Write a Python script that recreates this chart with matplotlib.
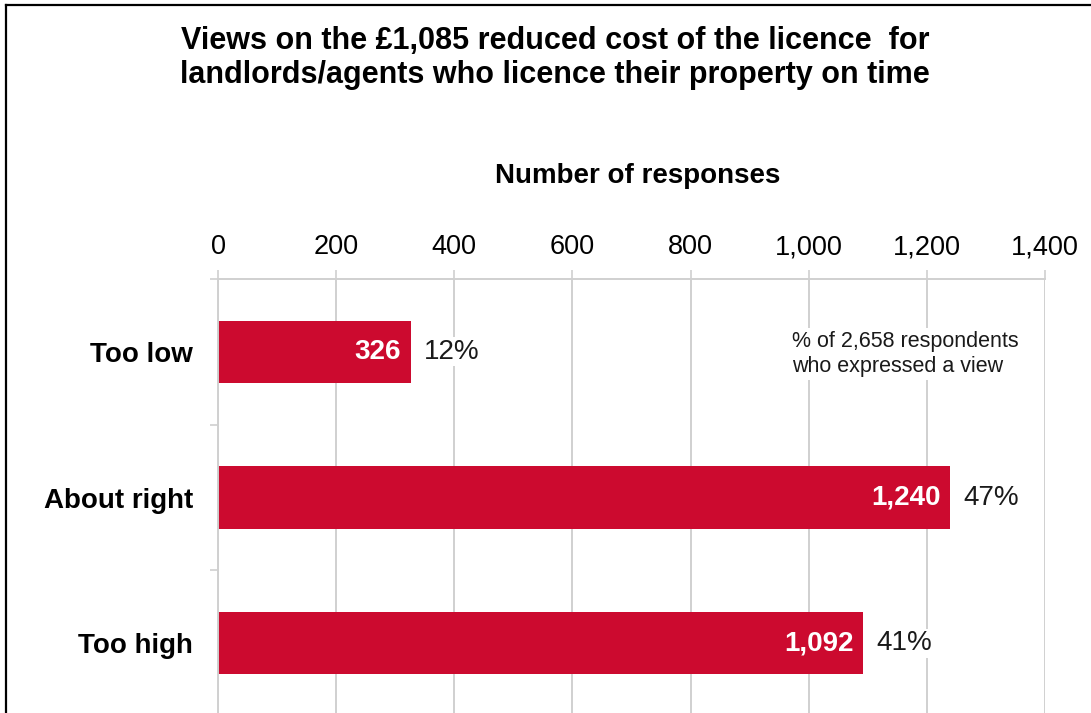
"""views on the reduced licence cost - horizontal bar chart"""
import matplotlib
matplotlib.use("Agg")
import matplotlib.pyplot as plt
from matplotlib.lines import Line2D

plt.rcParams['font.family'] = ['Liberation Sans', 'DejaVu Sans']

# data
categories = ['Too low', 'About right', 'Too high']
responses = [326, 1240, 1092]
percents = ['12%', '47%', '41%']
x_ticks = [0, 200, 400, 600, 800, 1000, 1200, 1400]
title = 'Views on the £1,085 reduced cost of the licence  for\nlandlords/agents who licence their property on time'
note = '% of 2,658 respondents\nwho expressed a view'

bar_color = '#CC0A2F'
grid_color = '#D0D0D0'

fig = plt.figure(figsize=(10.91, 7.13), dpi=100)
W, H = 1091, 713
ax = fig.add_axes([218 / W, 1 - 716 / H, (1045 - 218) / W, (716 - 279) / H])

ypos = list(range(len(categories)))
ax.barh(ypos, responses, height=0.43, color=bar_color, zorder=2)

ax.set_xlim(0, 1400)
ax.set_ylim(2.5, -0.5)

# x axis on top
ax.xaxis.tick_top()
ax.set_xticks(x_ticks)
ax.set_xticklabels(['{:,}'.format(t) for t in x_ticks], fontsize=19.5)
ax.tick_params(axis='x', direction='out', length=6.5, width=1.2, color=grid_color, pad=7)
ax.xaxis.set_label_position('top')
ax.set_xlabel('Number of responses', fontsize=20, fontweight='bold', labelpad=37)
ax.xaxis.label.set_x(0.507)
ax.xaxis.grid(True, color=grid_color, linewidth=1.4, zorder=0)

# categories with ticks at the boundaries
ax.set_yticks(ypos)
ax.set_yticklabels(categories, fontsize=20, fontweight='bold')
ax.set_yticks([-0.5, 0.5, 1.5, 2.5], minor=True)
ax.tick_params(axis='y', which='major', length=0, pad=18)
ax.tick_params(axis='y', which='minor', length=6, width=1.2, color=grid_color)

for s in ['right', 'bottom']:
    ax.spines[s].set_visible(False)
for s in ['top', 'left']:
    ax.spines[s].set_color(grid_color)
    ax.spines[s].set_linewidth(1.4)
ax.set_axisbelow(True)

# value labels in the bars and percentages after them
for y, v, p in zip(ypos, responses, percents):
    ax.annotate('{:,}'.format(v), xy=(v, y), xytext=(-7, 0), textcoords='offset points',
                ha='right', va='center', color='white', fontsize=20, fontweight='bold')
    ax.annotate(p, xy=(v, y), xytext=(9.5, 0), textcoords='offset points',
                ha='left', va='center', color='#1a1a1a', fontsize=20,
                bbox=dict(facecolor='white', edgecolor='none', pad=1))

ax.text(972, 0.015, note, ha='left', va='center', fontsize=15.5, color='#1a1a1a',
        linespacing=1.3, bbox=dict(facecolor='white', edgecolor='none', pad=2))

fig.text(0.509, 1 - 58 / H, title, ha='center', va='center', fontsize=22,
         fontweight='bold', linespacing=1.15)

# border of the original frame (left and top edges only)
fig.add_artist(Line2D([6 / W, 6 / W], [0, 1 - 5 / H], color='black', linewidth=1.6,
                      transform=fig.transFigure))
fig.add_artist(Line2D([6 / W, 1], [1 - 5 / H, 1 - 5 / H], color='black', linewidth=1.6,
                      transform=fig.transFigure))

fig.savefig('out.png', dpi=100)
